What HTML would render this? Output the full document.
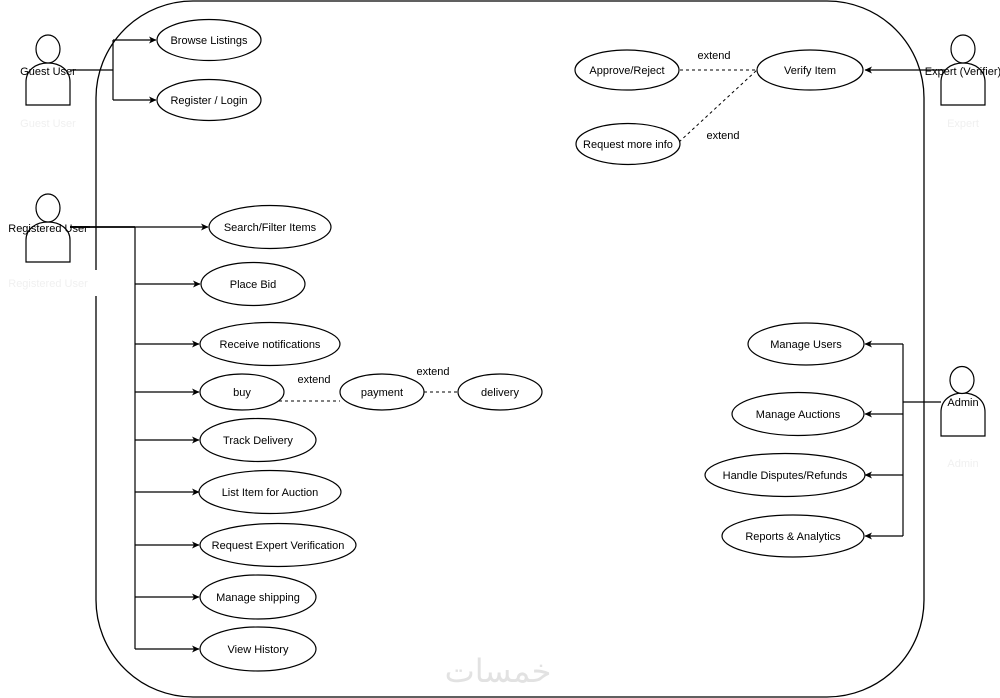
<!DOCTYPE html>
<html><head><meta charset="utf-8"><style>
html,body{margin:0;padding:0;background:#fff;}
svg{display:block;}
text{font-family:"Liberation Sans",Arial,sans-serif;font-size:11px;fill:#000;}
</style></head><body>
<svg width="1000" height="698" viewBox="0 0 1000 698" xmlns="http://www.w3.org/2000/svg">
<defs>
<marker id="ar" markerWidth="8" markerHeight="8" refX="7" refY="4" orient="auto" markerUnits="userSpaceOnUse">
<path d="M0,0.5 L7.5,4 L0,7.5 L2,4 Z" fill="#000"/>
</marker>
</defs>
<rect width="1000" height="698" fill="#fff"/>
<!-- system boundary -->
<rect x="96" y="1" width="828" height="696" rx="97" ry="97" fill="none" stroke="#000" stroke-width="1.3"/>
<rect x="90" y="270" width="12" height="26" fill="#fff"/>

<!-- watermark -->
<text x="498" y="682" text-anchor="middle" style="font-family:'DejaVu Sans',sans-serif;font-size:32px;fill:#e2e2e2;">خمسات</text>

<!-- faint ghost labels -->
<text x="48" y="127" text-anchor="middle" style="fill:#f0f0f0">Guest User</text>
<text x="48" y="287" text-anchor="middle" style="fill:#f0f0f0">Registered User</text>
<text x="963" y="127" text-anchor="middle" style="fill:#f0f0f0">Expert</text>
<text x="963" y="467" text-anchor="middle" style="fill:#f0f0f0">Admin</text>

<g fill="none" stroke="#000" stroke-width="1.2">
<!-- Guest connectors -->
<path d="M70,70 H113 M113,40 V100"/>
<path d="M113,40 H156" marker-end="url(#ar)"/>
<path d="M113,100 H156" marker-end="url(#ar)"/>
<!-- Registered connectors -->
<path d="M70,227 H135" stroke-width="1.8"/>
<path d="M135,227 H208" marker-end="url(#ar)"/>
<path d="M135,227 V649"/>
<path d="M135,284 H200" marker-end="url(#ar)"/>
<path d="M135,344 H199" marker-end="url(#ar)"/>
<path d="M135,392 H199" marker-end="url(#ar)"/>
<path d="M135,440 H199" marker-end="url(#ar)"/>
<path d="M135,492 H199" marker-end="url(#ar)"/>
<path d="M135,545 H199" marker-end="url(#ar)"/>
<path d="M135,597 H199" marker-end="url(#ar)"/>
<path d="M135,649 H199" marker-end="url(#ar)"/>
<!-- Expert -->
<path d="M950,70 H865" marker-end="url(#ar)"/>
<!-- Admin -->
<path d="M941,402 H903 M903,344 V536"/>
<path d="M903,344 H865" marker-end="url(#ar)"/>
<path d="M903,414 H865" marker-end="url(#ar)"/>
<path d="M903,475 H865" marker-end="url(#ar)"/>
<path d="M903,536 H865" marker-end="url(#ar)"/>
<!-- dashed extends -->
<g stroke-dasharray="3,3" stroke-width="1">
<path d="M680,70 H757"/>
<path d="M679,142 L757,70"/>
<path d="M279,401 H340"/>
<path d="M424,392 H459"/>
</g>
</g>

<!-- Use case ellipses -->
<g fill="#fff" stroke="#000" stroke-width="1.2">
<ellipse cx="209" cy="40" rx="52" ry="20.5"/>
<ellipse cx="209" cy="100" rx="52" ry="20.5"/>
<ellipse cx="627" cy="70" rx="52" ry="20"/>
<ellipse cx="810" cy="70" rx="53" ry="20"/>
<ellipse cx="628" cy="144" rx="52" ry="20.5"/>
<ellipse cx="270" cy="227" rx="61" ry="21.5"/>
<ellipse cx="253" cy="284" rx="52" ry="21.5"/>
<ellipse cx="270" cy="344" rx="70" ry="21.5"/>
<ellipse cx="242" cy="392" rx="42" ry="18"/>
<ellipse cx="382" cy="392" rx="42" ry="18"/>
<ellipse cx="500" cy="392" rx="42" ry="18"/>
<ellipse cx="258" cy="440" rx="58" ry="21.5"/>
<ellipse cx="270" cy="492" rx="71" ry="21.5"/>
<ellipse cx="278" cy="545" rx="78" ry="21.5"/>
<ellipse cx="258" cy="597" rx="58" ry="22"/>
<ellipse cx="258" cy="649" rx="58" ry="22"/>
<ellipse cx="806" cy="344" rx="58" ry="21"/>
<ellipse cx="798" cy="414" rx="66" ry="21.5"/>
<ellipse cx="785" cy="475" rx="80" ry="21.5"/>
<ellipse cx="793" cy="536" rx="71" ry="21"/>
</g>

<!-- Actors -->
<g fill="#fff" stroke="#000" stroke-width="1.2">
<!-- Guest -->
<path d="M26,105 V82 C26,70 36,63 48,63 C60,63 70,70 70,82 V105 Z"/>
<ellipse cx="48" cy="49" rx="12" ry="14"/>
<!-- Registered -->
<path d="M26,262 V240 C26,229 36,222 48,222 C60,222 70,229 70,240 V262 Z"/>
<ellipse cx="48" cy="208" rx="12" ry="14"/>
<!-- Expert -->
<path d="M941,105 V82 C941,70 951,63 963,63 C975,63 985,70 985,82 V105 Z"/>
<ellipse cx="963" cy="49" rx="12" ry="14"/>
<!-- Admin -->
<path d="M941,436 V412 C941,400 951,393 963,393 C975,393 985,400 985,412 V436 Z"/>
<ellipse cx="962" cy="380" rx="12" ry="13.5"/>
</g>
<path d="M70,227 H90" stroke="#000" stroke-width="1.8"/>

<!-- Labels -->
<g text-anchor="middle">
<text x="48" y="75">Guest User</text>
<text x="48" y="232">Registered User</text>
<text x="963" y="75">Expert (Verifier)</text>
<text x="963" y="406">Admin</text>

<text x="209" y="44">Browse Listings</text>
<text x="209" y="104">Register / Login</text>
<text x="627" y="74">Approve/Reject</text>
<text x="810" y="74">Verify Item</text>
<text x="628" y="148">Request more info</text>
<text x="270" y="231">Search/Filter Items</text>
<text x="253" y="288">Place Bid</text>
<text x="270" y="348">Receive notifications</text>
<text x="242" y="396">buy</text>
<text x="382" y="396">payment</text>
<text x="500" y="396">delivery</text>
<text x="258" y="444">Track Delivery</text>
<text x="270" y="496">List Item for Auction</text>
<text x="278" y="549">Request Expert Verification</text>
<text x="258" y="601">Manage shipping</text>
<text x="258" y="653">View History</text>
<text x="806" y="348">Manage Users</text>
<text x="798" y="418">Manage Auctions</text>
<text x="785" y="479">Handle Disputes/Refunds</text>
<text x="793" y="540">Reports &amp; Analytics</text>

<text x="714" y="59">extend</text>
<text x="723" y="139">extend</text>
<text x="314" y="383">extend</text>
<text x="433" y="375">extend</text>
</g>
</svg>
</body></html>
